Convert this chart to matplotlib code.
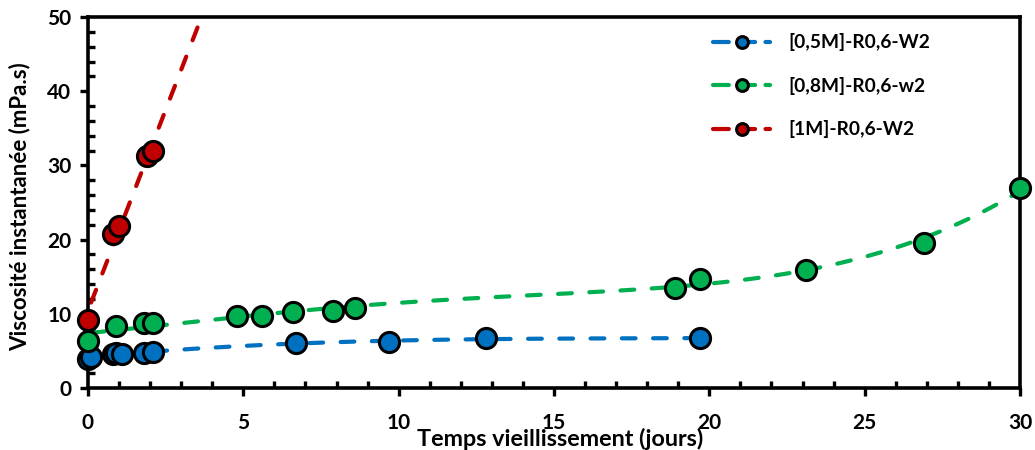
import numpy as np
import matplotlib.pyplot as plt
from matplotlib.ticker import MultipleLocator
from matplotlib.legend_handler import HandlerLine2D

plt.rcParams['font.family'] = ['Lato', 'DejaVu Sans']
plt.rcParams['font.weight'] = 'bold'

# data
x_05 = [0.0, 0.1, 0.8, 0.9, 1.1, 1.8, 2.1, 6.7, 9.7, 12.8, 19.7]
y_05 = [3.9, 4.2, 4.6, 4.7, 4.6, 4.7, 4.9, 6.0, 6.2, 6.7, 6.7]

x_08 = [0.0, 0.9, 1.8, 2.1, 4.8, 5.6, 6.6, 7.9, 8.6, 18.9, 19.7, 23.1, 26.9, 30.0]
y_08 = [6.3, 8.4, 8.8, 8.7, 9.7, 9.7, 10.2, 10.4, 10.8, 13.5, 14.7, 15.9, 19.5, 26.9]

x_1 = [0.0, 0.8, 1.0, 1.9, 2.1]
y_1 = [9.1, 20.7, 21.8, 31.3, 32.0]

labels = ['[0,5M]-R0,6-W2', '[0,8M]-R0,6-w2', '[1M]-R0,6-W2']
colors = ['#0070C0', '#00B050', '#C00000']


class MarkerRight(HandlerLine2D):
    # excel-like legend key: marker sits toward the right of the dash
    def get_xdata(self, legend, xdescent, ydescent, width, height, fontsize):
        xdata, _ = super().get_xdata(legend, xdescent, ydescent, width, height, fontsize)
        return xdata, np.array([-xdescent + 0.64 * width])


fig = plt.figure(figsize=(10.35, 4.5), dpi=100)
ax = fig.add_axes([0.085, 0.138, 0.9005, 0.824])

series = [(x_05, y_05, 3, 19.7), (x_08, y_08, 4, 30.0), (x_1, y_1, 1, 3.8)]
handles = []
for (xs, ys, deg, xmax), lab, col in zip(series, labels, colors):
    # trend line fitted on the points (like the spreadsheet trendline)
    coef = np.polyfit(xs, ys, deg)
    xf = np.linspace(0.1, xmax, 300)
    ax.plot(xf, np.polyval(coef, xf), color=col, lw=3, dashes=(3.3, 4.2),
            dash_capstyle='round', zorder=2)
    ax.plot(xs, ys, 'o', color=col, ms=14.5, mec='black', mew=2.2, zorder=4, clip_on=False)
    h, = ax.plot([], [], color=col, lw=3, dashes=(3.8, 2.5), dash_capstyle='round',
                 marker='o', ms=8.5, mec='black', mew=2.2, mfc=col, label=lab)
    handles.append(h)

ax.set_xlim(0, 30)
ax.set_ylim(0, 50)
ax.xaxis.set_major_locator(MultipleLocator(5))
ax.xaxis.set_minor_locator(MultipleLocator(1))
ax.yaxis.set_major_locator(MultipleLocator(10))
ax.yaxis.set_minor_locator(MultipleLocator(2))
ax.tick_params(which='major', direction='out', length=6, width=2.4, labelsize=15)
ax.tick_params(axis='x', which='major', pad=12)
ax.tick_params(axis='y', which='major', pad=6)
ax.tick_params(which='minor', direction='in', length=5, width=2.4)
for s in ax.spines.values():
    s.set_linewidth(2.6)
    s.set_zorder(3)

ax.set_xlabel('Temps vieillissement (jours)', fontsize=16.8, fontweight='bold')
ax.xaxis.set_label_coords(0.507, -0.108)
ax.set_ylabel('Viscosité instantanée (mPa.s)', fontsize=16, fontweight='bold')
ax.yaxis.set_label_coords(-0.062, 0.49)

ax.legend(handles=handles, loc='upper left', bbox_to_anchor=(0.652, 1.003), frameon=False,
          fontsize=13.8, labelspacing=1.33, handlelength=3.0, handletextpad=0.95,
          handler_map={h: MarkerRight(numpoints=1) for h in handles})

fig.savefig('out.png', dpi=100)
